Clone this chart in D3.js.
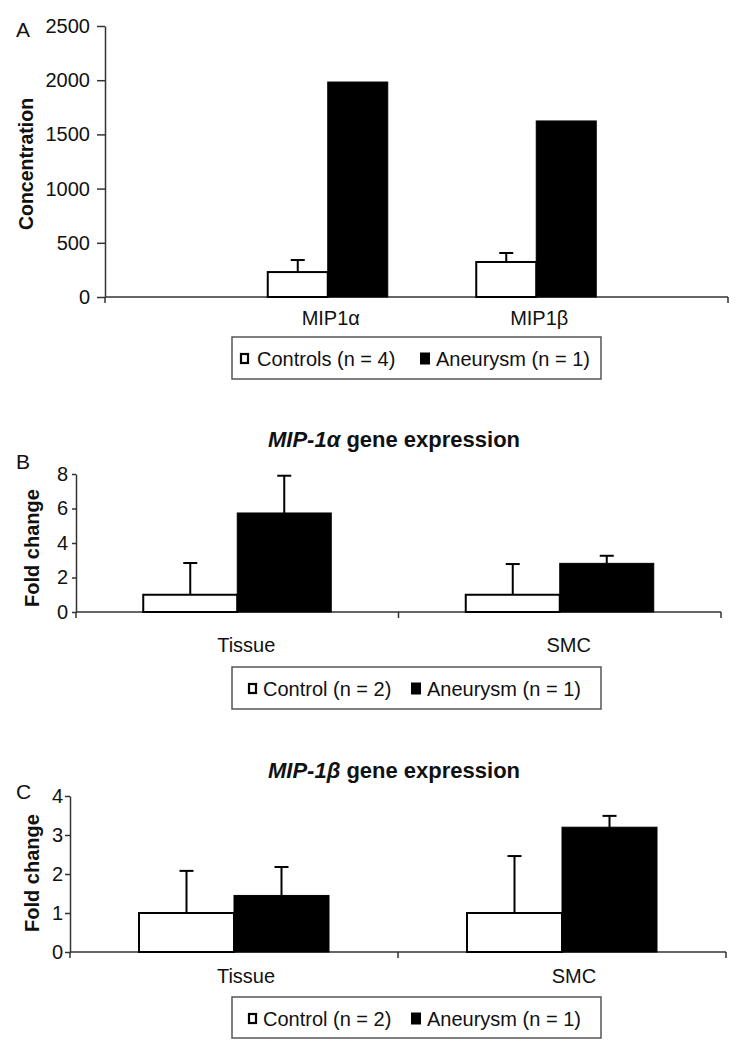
<!DOCTYPE html>
<html>
<head>
<meta charset="utf-8">
<script src="https://cdn.jsdelivr.net/npm/d3@7/dist/d3.min.js"></script>
<style>
  html, body { margin: 0; padding: 0; background: #fff; }
  svg { display: block; }
  text { font-family: "Liberation Sans", Arial, sans-serif; fill: #111; }
</style>
</head>
<body>
<svg id="chart" width="743" height="1050"></svg>
<script>
// ---------- Data ----------
const seriesNamesA = ["Controls (n = 4)", "Aneurysm (n = 1)"];
const seriesNamesBC = ["Control (n = 2)", "Aneurysm (n = 1)"];

const categoriesA = ["MIP1α", "MIP1β"];
const controlA = [230, 323];
const controlErrA = [111, 83];
const aneurysmA = [1983, 1624];
const aneurysmErrA = [null, null];
const yTicksA = [0, 500, 1000, 1500, 2000, 2500];

const categoriesB = ["Tissue", "SMC"];
const controlB = [1, 1];
const controlErrB = [1.84, 1.78];
const aneurysmB = [5.74, 2.82];
const aneurysmErrB = [2.16, 0.44];
const yTicksB = [0, 2, 4, 6, 8];

const categoriesC = ["Tissue", "SMC"];
const controlC = [1, 1];
const controlErrC = [1.08, 1.46];
const aneurysmC = [1.45, 3.2];
const aneurysmErrC = [0.73, 0.29];
const yTicksC = [0, 1, 2, 3, 4];

// ---------- Drawing ----------
const svg = d3.select("#chart");
const FONT = 20;

function drawPanel(o) {
  const g = svg.append("g");
  const y = d3.scaleLinear().domain([0, o.yMax]).range([o.y0, o.yTop]);
  const x = d3.scaleBand().domain(o.categories).range(o.bandRange).padding(0);

  // y axis
  const yAxis = d3.axisLeft(y).tickValues(o.yTicks).tickFormat(d3.format("d"))
    .tickSize(o.tickLen).tickPadding(o.tickPad).tickSizeOuter(0);
  const ya = g.append("g").attr("transform", `translate(${o.axisX},0)`).call(yAxis);
  ya.select(".domain").attr("stroke", "#333").attr("stroke-width", 1.5);
  ya.selectAll(".tick line").attr("stroke", "#333").attr("stroke-width", 1.5);
  ya.selectAll(".tick text").style("font-size", FONT + "px").attr("fill", "#111")
    .style("font-family", '"Liberation Sans", Arial, sans-serif');
  // extension of y axis below zero
  g.append("line").attr("x1", o.axisX).attr("x2", o.axisX)
    .attr("y1", o.y0).attr("y2", o.y0 + 6).attr("stroke", "#333").attr("stroke-width", 1.5);

  // x axis line
  g.append("line").attr("x1", o.axisX).attr("x2", o.xEnd)
    .attr("y1", o.y0).attr("y2", o.y0).attr("stroke", "#333").attr("stroke-width", 1.5);
  g.selectAll(".xtick").data(o.xTickPositions).enter().append("line")
    .attr("x1", d => d).attr("x2", d => d)
    .attr("y1", o.y0).attr("y2", o.y0 + 6)
    .attr("stroke", "#333").attr("stroke-width", 1.5);

  // bars
  const rows = o.categories.map((c, i) => ({
    c, ctrl: o.control[i], ctrlErr: o.controlErr[i], an: o.aneurysm[i], anErr: o.aneurysmErr[i]
  }));
  const cx = d => x(d.c) + x.bandwidth() / 2;

  const errs = [];
  rows.forEach(r => {
    if (r.ctrlErr != null) errs.push({ x: cx(r) - o.barW / 2, v: r.ctrl, e: r.ctrlErr });
    if (r.anErr != null) errs.push({ x: cx(r) + o.barW / 2, v: r.an, e: r.anErr });
  });
  g.selectAll(".err").data(errs).enter().append("line")
    .attr("x1", d => d.x).attr("x2", d => d.x)
    .attr("y1", d => y(d.v)).attr("y2", d => y(d.v + d.e))
    .attr("stroke", "#000").attr("stroke-width", 2);
  g.selectAll(".cap").data(errs).enter().append("line")
    .attr("x1", d => d.x - 7).attr("x2", d => d.x + 7)
    .attr("y1", d => y(d.v + d.e)).attr("y2", d => y(d.v + d.e))
    .attr("stroke", "#000").attr("stroke-width", 2);

  g.selectAll(".bc").data(rows).enter().append("rect")
    .attr("x", d => cx(d) - o.barW).attr("width", o.barW)
    .attr("y", d => y(d.ctrl)).attr("height", d => o.y0 - y(d.ctrl))
    .attr("fill", "#fff").attr("stroke", "#000").attr("stroke-width", 2);
  g.selectAll(".ba").data(rows).enter().append("rect")
    .attr("x", d => cx(d)).attr("width", o.barW)
    .attr("y", d => y(d.an)).attr("height", d => o.y0 - y(d.an))
    .attr("fill", "#000").attr("stroke", "#000").attr("stroke-width", 1);

  // category labels
  g.selectAll(".cl").data(o.categories).enter().append("text")
    .attr("x", d => x(d) + x.bandwidth() / 2 + o.labelDx)
    .attr("y", o.labelY).attr("text-anchor", "middle")
    .style("font-size", FONT + "px").text(d => d);

  // y label
  g.append("text").attr("transform", `translate(${o.yLabelX},${o.yLabelY}) rotate(-90)`)
    .attr("text-anchor", "middle").style("font-size", o.yLabelSize + "px")
    .style("font-weight", "bold").text(o.yLabel);

  // panel letter
  g.append("text").attr("x", 16).attr("y", o.letterY).style("font-size", "21px").text(o.letter);

  // title
  if (o.titleItalic) {
    const t = g.append("text").attr("x", 394).attr("y", o.titleY).attr("text-anchor", "middle")
      .style("font-size", "22px").style("font-weight", "bold");
    t.append("tspan").style("font-style", "italic").text(o.titleItalic);
    t.append("tspan").text(" gene expression");
  }

  // legend
  const L = o.legend;
  g.append("rect").attr("x", 232).attr("y", L.top).attr("width", 369).attr("height", L.h)
    .attr("fill", "#fff").attr("stroke", "#555").attr("stroke-width", 1.5);
  g.append("rect").attr("x", L.sq1).attr("y", L.base - 12).attr("width", 7).attr("height", 9)
    .attr("fill", "#fff").attr("stroke", "#000").attr("stroke-width", 2.2);
  g.append("text").attr("x", L.t1).attr("y", L.base).style("font-size", FONT + "px").text(o.names[0]);
  g.append("rect").attr("x", L.sq2).attr("y", L.base - 13.5).attr("width", 10).attr("height", 12)
    .attr("fill", "#000");
  g.append("text").attr("x", L.t2).attr("y", L.base).style("font-size", FONT + "px").text(o.names[1]);
}

drawPanel({
  categories: categoriesA, control: controlA, controlErr: controlErrA,
  aneurysm: aneurysmA, aneurysmErr: aneurysmErrA, yTicks: yTicksA, yMax: 2500,
  axisX: 105, y0: 297, yTop: 26, xEnd: 728, bandRange: [223.5, 640.5], barW: 60,
  tickLen: 8, tickPad: 7, xTickPositions: [728],
  labelY: 325, labelDx: 3,
  yLabel: "Concentration", yLabelX: 33, yLabelY: 164, yLabelSize: 19.5,
  letter: "A", letterY: 37,
  names: seriesNamesA,
  legend: { top: 337, h: 42, base: 366, sq1: 241, t1: 257, sq2: 420, t2: 436 }
});

drawPanel({
  categories: categoriesB, control: controlB, controlErr: controlErrB,
  aneurysm: aneurysmB, aneurysmErr: aneurysmErrB, yTicks: yTicksB, yMax: 8,
  axisX: 76, y0: 612, yTop: 474, xEnd: 721, bandRange: [76, 721], barW: 94,
  tickLen: 4, tickPad: 4, xTickPositions: [398.5, 721],
  labelY: 652, labelDx: 9,
  yLabel: "Fold change", yLabelX: 39, yLabelY: 548, yLabelSize: 20,
  letter: "B", letterY: 469,
  titleItalic: "MIP-1α", titleY: 447,
  names: seriesNamesBC,
  legend: { top: 667, h: 42, base: 696, sq1: 249, t1: 263, sq2: 411, t2: 427 }
});

drawPanel({
  categories: categoriesC, control: controlC, controlErr: controlErrC,
  aneurysm: aneurysmC, aneurysmErr: aneurysmErrC, yTicks: yTicksC, yMax: 4,
  axisX: 70, y0: 952, yTop: 796, xEnd: 726, bandRange: [70, 726], barW: 95,
  tickLen: 5, tickPad: 2, xTickPositions: [398, 726],
  labelY: 983, labelDx: 12,
  yLabel: "Fold change", yLabelX: 39, yLabelY: 873, yLabelSize: 20,
  letter: "C", letterY: 799,
  titleItalic: "MIP-1β", titleY: 778,
  names: seriesNamesBC,
  legend: { top: 997, h: 41, base: 1026, sq1: 249, t1: 263, sq2: 411, t2: 427 }
});
</script>
</body>
</html>
